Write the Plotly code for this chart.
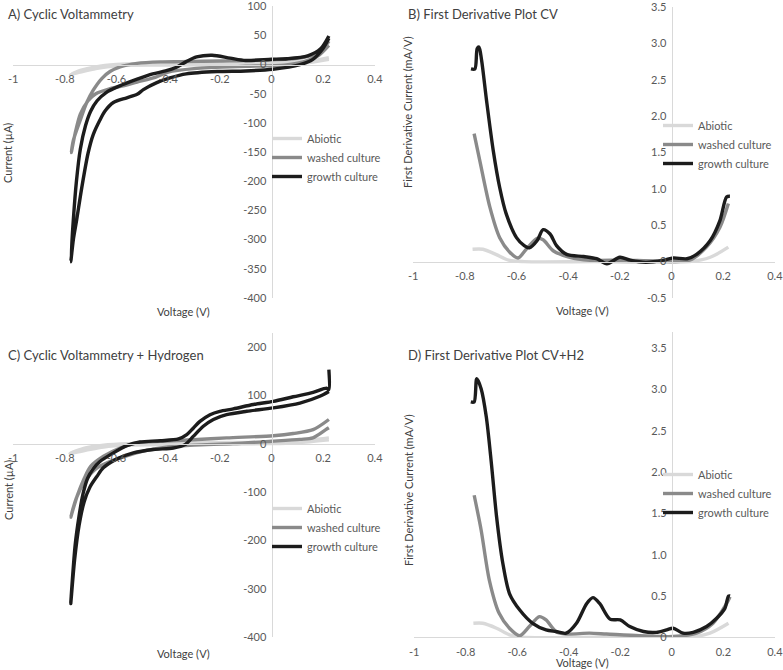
import plotly.graph_objects as go

# ---------------- DATA ----------------
series_names = ["Abiotic", "washed culture", "growth culture"]

# Panel A: Cyclic Voltammetry (current, uA)
A_abiotic_v = [0.222, 0.15, 0.05, -0.2, -0.5, -0.6, -0.68, -0.74, -0.778,
               -0.74, -0.68, -0.6, -0.4, 0.0, 0.12, 0.222]
A_abiotic_i = [12, 6, 4, 3, 2, 0, -4, -10, -17,
               -13, -7, -2, -1, 0, 2, 9]
A_washed_v = [0.222, 0.19, 0.12, 0.0, -0.2, -0.35, -0.43, -0.52, -0.586, -0.625, -0.657, -0.69, -0.716, -0.74, -0.767, -0.775,
              -0.76, -0.74, -0.71, -0.68, -0.63, -0.58, -0.52, -0.45, -0.4, -0.3, -0.1, 0.05, 0.12, 0.18, 0.222]
A_washed_i = [40, 22, 12, 8, 6, 5, 4.5, 2, -4, -12, -24, -44, -66, -95, -130, -151,
              -118, -85, -62, -50, -42, -37, -30, -22, -13, -7, -3, -1, 4, 15, 33]
A_growth_v = [0.222, 0.19, 0.14, 0.06, 0.0, -0.1, -0.16, -0.23, -0.29, -0.33, -0.37, -0.41, -0.46, -0.52, -0.59, -0.64, -0.675, -0.70, -0.72, -0.74, -0.755, -0.767, -0.777,
              -0.767, -0.754, -0.734, -0.71, -0.69, -0.664, -0.645, -0.612, -0.56, -0.52, -0.496, -0.444, -0.393, -0.33, -0.21, -0.1, 0.005, 0.11, 0.16, 0.2, 0.222]
A_growth_i = [49, 27, 15, 10, 9, 7, 11, 16, 13, 5, -5, -11, -16, -25, -37, -48, -62, -80, -105, -145, -200, -266, -338,
              -300, -266, -210, -152, -120, -95, -80, -65, -57, -51, -43, -31, -23, -16, -12, -11, -8, 0, 9, 28, 45]

# Panel B: First derivative of CV (mA/V)
B_abiotic_v = [-0.77, -0.73, -0.68, -0.63, -0.57, -0.3, 0.07, 0.15, 0.22]
B_abiotic_d = [0.17, 0.17, 0.10, 0.02, 0.0, 0.0, 0.0, 0.06, 0.20]
B_washed_v = [-0.764, -0.742, -0.703, -0.665, -0.626, -0.594, -0.56, -0.52, -0.497, -0.458, -0.394, -0.316, -0.187, -0.06, 0.07, 0.135, 0.187, 0.22]
B_washed_d = [1.76, 1.39, 0.75, 0.33, 0.13, 0.05, 0.18, 0.32, 0.30, 0.15, 0.06, 0.02, 0.02, 0.01, 0.02, 0.20, 0.47, 0.80]
B_growth_v = [-0.776, -0.761, -0.752, -0.745, -0.735, -0.716, -0.69, -0.665, -0.64, -0.6, -0.57, -0.55, -0.52, -0.497, -0.47, -0.445, -0.406, -0.34, -0.29, -0.25, -0.2, -0.16, -0.1, -0.03, 0.006, 0.06, 0.097, 0.15, 0.187, 0.213, 0.226]
B_growth_d = [2.65, 2.65, 2.93, 2.95, 2.77, 2.22, 1.53, 1.02, 0.66, 0.33, 0.22, 0.19, 0.29, 0.44, 0.38, 0.22, 0.10, 0.07, 0.04, -0.03, 0.06, 0.02, -0.01, 0.02, 0.05, 0.04, 0.10, 0.29, 0.56, 0.89, 0.90]

# Panel C: Cyclic Voltammetry + Hydrogen (current, uA)
C_abiotic_v = [0.222, 0.1, 0.0, -0.3, -0.55, -0.65, -0.72, -0.78,
               -0.72, -0.65, -0.55, -0.3, 0.0, 0.1, 0.222]
C_abiotic_i = [12, 5, 3, 2, 0, -3, -9, -20,
               -14, -7, -3, -1, 0, 2, 8]
C_washed_v = [0.222, 0.161, 0.084, 0.007, -0.174, -0.303, -0.43, -0.52, -0.586, -0.65, -0.7, -0.725, -0.752, -0.777,
              -0.755, -0.72, -0.68, -0.63, -0.57, -0.5, -0.4, -0.3, -0.15, 0.0, 0.11, 0.16, 0.21, 0.222]
C_washed_i = [50, 29, 21, 16.5, 12, 8, 5, 1.5, -9, -26, -47, -72, -108, -152,
              -112, -76, -52, -38, -27, -16, -7, -3, 0, 5, 9, 12, 29, 33]
C_growth_v = [0.222, 0.222, 0.213, 0.161, 0.084, 0.007, -0.07, -0.148, -0.2, -0.238, -0.277, -0.303, -0.328, -0.36, -0.43, -0.509, -0.56, -0.612, -0.664, -0.69, -0.712, -0.73, -0.745, -0.76, -0.777,
              -0.762, -0.745, -0.725, -0.703, -0.676, -0.651, -0.6, -0.535, -0.457, -0.38, -0.335, -0.303, -0.264, -0.225, -0.174, -0.096, 0.007, 0.11, 0.187, 0.222]
C_growth_i = [153, 112, 115, 106, 97, 87.5, 81, 72, 67, 60, 46, 32, 18.6, 9.7, 6, 3.5, -4, -19, -37, -52, -72, -105, -150, -210, -331,
              -240, -170, -120, -90, -68, -50, -32, -19, -12, -9, -2, 15, 36, 50, 60, 67, 74, 84, 98, 108]

# Panel D: First derivative of CV + H2 (mA/V)
D_abiotic_v = [-0.77, -0.734, -0.68, -0.63, -0.58, -0.3, 0.07, 0.148, 0.22]
D_abiotic_d = [0.17, 0.17, 0.11, 0.03, 0.0, 0.0, 0.0, 0.05, 0.17]
D_washed_v = [-0.767, -0.74, -0.708, -0.67, -0.63, -0.59, -0.553, -0.514, -0.488, -0.45, -0.41, -0.32, -0.254, -0.125, 0.005, 0.096, 0.16, 0.213, 0.226]
D_washed_d = [1.72, 1.30, 0.69, 0.29, 0.11, 0.02, 0.13, 0.25, 0.21, 0.07, 0.04, 0.05, 0.04, 0.02, 0.01, 0.05, 0.17, 0.41, 0.49]
D_growth_v = [-0.78, -0.767, -0.757, -0.74, -0.72, -0.70, -0.68, -0.656, -0.63, -0.59, -0.54, -0.488, -0.45, -0.41, -0.37, -0.33, -0.306, -0.28, -0.24, -0.2, -0.163, -0.11, -0.06, -0.02, 0.005, 0.044, 0.083, 0.135, 0.174, 0.206, 0.22, 0.226]
D_growth_d = [2.85, 2.85, 3.13, 3.01, 2.67, 2.10, 1.46, 0.90, 0.53, 0.33, 0.17, 0.09, 0.07, 0.05, 0.17, 0.41, 0.48, 0.41, 0.22, 0.21, 0.13, 0.07, 0.06, 0.09, 0.11, 0.05, 0.06, 0.13, 0.23, 0.35, 0.50, 0.50]

# Tick labels
x_tickvals = [-1, -0.8, -0.6, -0.4, -0.2, 0, 0.2, 0.4]
x_ticktext = ["-1", "-0.8", "-0.6", "-0.4", "-0.2", "0", "0.2", "0.4"]
A_tickvals = [-400, -350, -300, -250, -200, -150, -100, -50, 0, 50, 100]
A_ticktext = ["-400", "-350", "-300", "-250", "-200", "-150", "-100", "-50", "0", "50", "100"]
B_tickvals = [-0.5, 0, 0.5, 1.0, 1.5, 2.0, 2.5, 3.0, 3.5]
B_ticktext = ["-0.5", "0", "0.5", "1.0", "1.5", "2.0", "2.5", "3.0", "3.5"]
C_tickvals = [-400, -300, -200, -100, 0, 100, 200]
C_ticktext = ["-400", "-300", "-200", "-100", "0", "100", "200"]
D_tickvals = [0, 0.5, 1.0, 1.5, 2.0, 2.5, 3.0, 3.5]
D_ticktext = ["0", "0.5", "1.0", "1.5", "2.0", "2.5", "3.0", "3.5"]

titles = ["A) Cyclic Voltammetry", "B) First Derivative Plot CV",
          "C) Cyclic Voltammetry + Hydrogen", "D) First Derivative Plot CV+H2"]

# ---------------- LAYOUT ----------------
W, H = 783, 670
FONT = "Lato, 'Open Sans', sans-serif"
TXT = "#595959"
AXC = "#d9d9d9"
colors = ["#d9d9d9", "#8a8a8a", "#1c1c1c"]

def fx(px):
    return px / W

def fy(py):
    return 1 - py / H

panels = [
    dict(xd=(13, 375), yd=(298, 6), yr=(-400, 100.3), tv=A_tickvals, tt=A_ticktext,
         data=[(A_abiotic_v, A_abiotic_i), (A_washed_v, A_washed_i), (A_growth_v, A_growth_i)],
         leg=(267, 124)),
    dict(xd=(413, 775), yd=(298, 7), yr=(-0.5, 3.502), tv=B_tickvals, tt=B_ticktext,
         data=[(B_abiotic_v, B_abiotic_d), (B_washed_v, B_washed_d), (B_growth_v, B_growth_d)],
         leg=(658, 111)),
    dict(xd=(13, 375), yd=(637, 332.5), yr=(-400, 230), tv=C_tickvals, tt=C_ticktext,
         data=[(C_abiotic_v, C_abiotic_i), (C_washed_v, C_washed_i), (C_growth_v, C_growth_i)],
         leg=(267, 494)),
    dict(xd=(414, 775), yd=(637.3, 331.7), yr=(0, 3.7), tv=D_tickvals, tt=D_ticktext,
         data=[(D_abiotic_v, D_abiotic_d), (D_washed_v, D_washed_d), (D_growth_v, D_growth_d)],
         leg=(658, 460)),
]

fig = go.Figure()
layout = {}
for k, p in enumerate(panels):
    n = "" if k == 0 else str(k + 1)
    legname = "legend" + n
    xdom = [fx(p["xd"][0]), fx(p["xd"][1])]
    ydom = [fy(p["yd"][0]), fy(p["yd"][1])]
    y0, y1 = p["yr"]
    xpos = ydom[0] + (0 - y0) / (y1 - y0) * (ydom[1] - ydom[0])
    ypos = xdom[0] + (0 - (-1)) / (0.4 - (-1)) * (xdom[1] - xdom[0])
    for j, (xs, ys) in enumerate(p["data"]):
        fig.add_trace(go.Scatter(
            x=xs, y=ys, mode="lines", name=series_names[j],
            line=dict(color=colors[j], width=3.4, shape="spline", smoothing=0.8),
            xaxis="x" + n, yaxis="y" + n, legend=legname, showlegend=True))
    layout["xaxis" + n] = dict(
        domain=xdom, range=[-1.0005, 0.4005], anchor="free", position=xpos,
        showline=True, linecolor=AXC, linewidth=1, showgrid=False, zeroline=False,
        tickvals=x_tickvals, ticktext=x_ticktext, ticks="", automargin=False,
        ticklabeloverflow="allow",
        tickfont=dict(family=FONT, size=11, color=TXT), ticklabelstandoff=4)
    layout["yaxis" + n] = dict(
        domain=ydom, range=[y0, y1], anchor="free", position=ypos,
        showline=True, linecolor=AXC, linewidth=1, showgrid=False, zeroline=False,
        tickvals=p["tv"], ticktext=p["tt"], ticks="", automargin=False,
        ticklabeloverflow="allow",
        tickfont=dict(family=FONT, size=11, color=TXT), ticklabelstandoff=3)
    layout[legname] = dict(
        x=fx(p["leg"][0]), y=fy(p["leg"][1]), xanchor="left", yanchor="top",
        bgcolor="rgba(0,0,0,0)", font=dict(family=FONT, size=11, color=TXT),
        tracegroupgap=0, itemwidth=30)

annotations = []
title_pos = [(6, 14), (406, 14), (6, 355), (406, 355)]
for t, (px, py) in zip(titles, title_pos):
    annotations.append(dict(text=t, x=fx(px), y=fy(py), xref="paper", yref="paper",
                            xanchor="left", yanchor="middle", showarrow=False,
                            font=dict(family=FONT, size=13, color="#404040")))
ylabels = [("Current (µA)", 8, 153), ("First Derivative Current (mA/V)", 408, 112),
           ("Current (µA)", 8, 490), ("First Derivative Current (mA/V)", 408, 490)]
for t, px, py in ylabels:
    annotations.append(dict(text=t, x=fx(px), y=fy(py), xref="paper", yref="paper",
                            xanchor="center", yanchor="middle", textangle=-90, showarrow=False,
                            font=dict(family=FONT, size=11, color="#404040")))
xlabels = [(183, 312), (582, 310), (183, 653), (582, 662)]
for px, py in xlabels:
    annotations.append(dict(text="Voltage (V)", x=fx(px), y=fy(py), xref="paper", yref="paper",
                            xanchor="center", yanchor="middle", showarrow=False,
                            font=dict(family=FONT, size=11, color="#404040")))

fig.update_layout(
    width=W, height=H, margin=dict(l=0, r=0, t=0, b=0, autoexpand=False),
    paper_bgcolor="white", plot_bgcolor="white",
    annotations=annotations, **layout)

fig.write_html("out.html", config={"displayModeBar": False},
               post_script="document.body.style.margin='0px';")
